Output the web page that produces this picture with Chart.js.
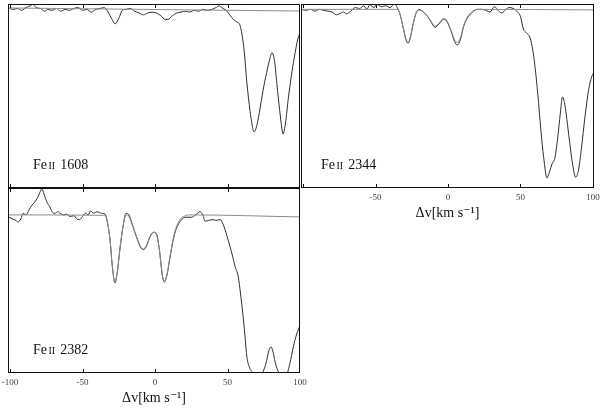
<!DOCTYPE html>
<html>
<head>
<meta charset="utf-8">
<title>Fe II velocity profiles</title>
<script src="https://cdn.jsdelivr.net/npm/chart.js@4.4.0/dist/chart.umd.min.js"></script>
<style>
  html, body { margin: 0; padding: 0; background: #fff; }
  #wrap { position: relative; width: 600px; height: 408px; overflow: hidden; }
  canvas { position: absolute; }
  #c1608 { left: 0; top: 0; }
  #c2344 { left: 295px; top: 0; }
  #c2382 { left: 0; top: 184px; }
</style>
</head>
<body>
<div id="wrap">
  <canvas id="c1608" width="302" height="190"></canvas>
  <canvas id="c2344" width="305" height="223"></canvas>
  <canvas id="c2382" width="310" height="224"></canvas>
</div>
<script>
(function () {

    'use strict';

    // Fe II 1608 : observed spectrum and continuum
    const vel1608 = [-101.4, -98, -95, -92, -89, -86, -84, -82, -79, -76, -74, -71, -68, -65, -62, -59, -56, -53, -50, -47,
        -44, -41, -38, -35, -32, -30, -27.5, -25, -22.5, -20, -17, -14, -11, -8, -5, -2, 1, 4, 7, 9, 12, 15, 18, 21, 24, 27,
        30, 33, 36, 39, 42, 44, 46, 49, 52, 54, 56.5, 58.5, 60, 61.5, 63.4, 65.5, 67, 68.3, 70, 72, 74.5, 77, 79, 80.7,
        82.5, 84, 86, 87.5, 88.3, 90, 92, 94, 96, 98.6, 100];
    const flux1608 = [1.0, 0.99, 0.995, 0.985, 1.0, 1.01, 1.02, 1.0, 0.995, 0.98, 0.99, 0.985, 0.995, 0.98, 0.99, 0.985, 0.995, 1.0, 0.985, 0.99,
        0.975, 0.99, 0.995, 1.0, 0.97, 0.94, 0.91, 0.94, 0.985, 0.99, 0.995, 0.98, 0.97, 0.96, 0.97, 0.975, 0.97, 0.955, 0.935, 0.935, 0.955, 0.97, 0.975, 0.98, 0.975, 0.985,
        0.98, 0.99, 0.985, 0.99, 1.0, 1.01, 1.0, 0.985, 0.955, 0.935, 0.92, 0.905, 0.85, 0.76, 0.58, 0.43, 0.35, 0.31, 0.34, 0.42, 0.54, 0.64, 0.71, 0.75,
        0.70, 0.58, 0.43, 0.33, 0.30, 0.36, 0.50, 0.62, 0.72, 0.83, 0.86];
    const modelVel1608 = [-101.4, 100];
    const model1608 = [0.998, 0.981];

    // Fe II 2344
    const vel2344 = [-101.4, -98, -95, -92, -89, -86, -83, -80, -77, -75, -72, -70, -67, -64, -61, -58, -56, -54, -51, -49,
        -46, -43, -40, -37, -35, -33, -31, -29, -27.6, -26, -24, -22, -20, -17, -14, -11, -9, -6, -3, -1, 2, 4.5, 6.4, 8.5,
        11, 14, 17, 20, 23, 26, 29, 32, 35, 37, 40, 42, 45, 48, 50, 52, 54, 56.6, 58.5, 60, 62, 64, 66, 68.3, 70, 72,
        73.5, 75.5, 77.5, 79, 80.5, 82.5, 84, 86, 88, 90, 92, 94.5, 97, 99, 100.7];
    const flux2344 = [1.0, 0.995, 1.0, 0.99, 1.0, 0.995, 0.99, 0.985, 0.97, 0.975, 0.985, 0.975, 0.99, 1.01, 1.005, 1.02, 1.0, 1.025, 1.01, 1.03,
        1.015, 1.02, 1.01, 1.03, 1.01, 0.97, 0.90, 0.83, 0.81, 0.84, 0.92, 0.98, 1.0, 0.985, 0.96, 0.92, 0.90, 0.92, 0.945, 0.935, 0.88, 0.82, 0.80, 0.83,
        0.91, 0.96, 0.985, 1.0, 1.0, 0.995, 0.985, 1.015, 0.99, 0.98, 1.0, 1.01, 1.005, 0.985, 0.96, 0.89, 0.87, 0.84, 0.77, 0.68, 0.52, 0.33, 0.17, 0.056, 0.09, 0.14,
        0.16, 0.27, 0.42, 0.51, 0.47, 0.35, 0.25, 0.13, 0.06, 0.10, 0.22, 0.40, 0.55, 0.62, 0.65];
    const modelVel2344 = [-101.4, -35, -33, -31, -29, -27.6, -26, -24, -22, -20, -17, -14, -11, -9, -6, -3, -1, 2, 4.5, 6.4,
        8.5, 11, 14, 17, 20, 100.7];
    const model2344 = [1.0, 1.0, 0.97, 0.90, 0.835, 0.815, 0.845, 0.92, 0.98, 0.995, 0.985, 0.96, 0.925, 0.905, 0.925, 0.95, 0.94, 0.885, 0.83, 0.815,
        0.84, 0.915, 0.965, 0.99, 1.0, 0.997];

    // Fe II 2382
    const vel2382 = [-101.4, -98.5, -96, -94.5, -92.5, -91, -89, -87, -85, -83, -81, -79.5, -78, -76.5, -74.5, -72.5, -71, -69, -67, -65.5,
        -63, -61, -58.6, -56, -54, -52, -50, -48, -46, -44.5, -42.5, -40, -37, -34.5, -33, -31, -29.5, -27.6, -26, -24,
        -22, -20, -18, -15, -12, -10, -8, -6, -3.5, -1, 1, 3, 5, 6.4, 8.5, 10.3, 13, 15, 17.5, 19.5,
        22, 25, 28, 31, 33, 34.5, 37, 40, 42, 45, 47, 49.5, 51.7, 53.5, 55, 57.4, 59, 60.5, 62, 63.4,
        65, 66.7, 69, 73.6, 75.5, 77, 78.5, 80, 81.5, 82.8, 84.5, 86, 91, 93, 95.4, 97.5, 100];
    const flux2382 = [0.99, 0.975, 0.965, 0.955, 0.975, 1.01, 1.0, 1.03, 1.06, 1.08, 1.11, 1.14, 1.165, 1.13, 1.08, 1.05, 1.02, 1.01, 1.02, 1.01,
        1.0, 1.005, 0.99, 0.995, 0.975, 0.97, 0.99, 1.01, 1.0, 1.025, 1.01, 1.02, 1.01, 1.005, 0.96, 0.84, 0.68, 0.57, 0.64, 0.80,
        0.93, 1.01, 1.0, 0.92, 0.84, 0.795, 0.78, 0.80, 0.86, 0.89, 0.88, 0.78, 0.62, 0.575, 0.63, 0.73, 0.86, 0.92, 0.96, 0.98,
        0.985, 0.985, 1.0, 1.02, 1.0, 0.96, 0.965, 0.97, 0.965, 0.97, 0.94, 0.87, 0.80, 0.74, 0.68, 0.61, 0.50, 0.38, 0.24, 0.10,
        0.04, 0.01, 0.0, 0.0, 0.03, 0.08, 0.14, 0.165, 0.13, 0.07, 0.02, 0.0, 0.0, 0.06, 0.165, 0.24, 0.30];
    const modelVel2382 = [-101.4, -35, -33, -31, -29.5, -27.6, -26, -24, -22, -20, -18, -15, -12, -10, -8, -6, -3.5, -1, 1, 3,
        5, 6.4, 8.5, 10.3, 13, 15, 17.5, 20, 23, 100];
    const model2382 = [1.0, 0.997, 0.96, 0.84, 0.68, 0.575, 0.64, 0.80, 0.93, 1.0, 0.99, 0.92, 0.845, 0.80, 0.785, 0.805, 0.865, 0.89, 0.875, 0.78,
        0.625, 0.58, 0.635, 0.735, 0.87, 0.93, 0.975, 0.99, 1.0, 0.987];

    // axis ticks
    const tickMarks = [-100, -50, 0, 50, 100];
    const labelsBottom = [-100, -50, 0, 50, 100];
    const labelsRight = [-50, 0, 50, 100];
    const axisTitle = 'Δv[km s⁻¹]';

    const serif = '"Liberation Serif", "DejaVu Serif", serif';

    // frame, inward tick marks and the ion label
    const framePlugin = {
        id: 'frame',
        afterDatasetsDraw(chart, args, opts) {
            let a = chart.chartArea;
            let ctx = chart.ctx;
            let xs = chart.scales.x;
            let l = Math.round(a.left), r = Math.round(a.right);
            let t = Math.round(a.top), b = Math.round(a.bottom);
            ctx.save();
            ctx.strokeStyle = '#111';
            ctx.lineWidth = 1;
            ctx.strokeRect(l + 0.5, t + 0.5, r - l - 1, b - t - 1);
            ctx.beginPath();
            tickMarks.forEach((v) => {
                let px = Math.round(xs.getPixelForValue(v)) + 0.5;
                if (px < l + 2 || px > r - 2) {
                    return;
                }
                ctx.moveTo(px, t);
                ctx.lineTo(px, t + 4);
                ctx.moveTo(px, b);
                ctx.lineTo(px, b - 4);
            });
            ctx.stroke();

            // Fe II label, with the ion stage in small capitals
            let x = a.left + opts.dx;
            let y = a.bottom - 19;
            ctx.fillStyle = '#111';
            ctx.textBaseline = 'alphabetic';
            ctx.font = '14px ' + serif;
            ctx.fillText('Fe', x, y);
            x += ctx.measureText('Fe').width + 1.5;
            ctx.font = '10px ' + serif;
            ctx.fillText('II', x, y);
            x += ctx.measureText('II').width + 5;
            ctx.font = '14px ' + serif;
            ctx.fillText(opts.line, x, y);
            ctx.restore();
        }
    };

    window.addEventListener('load', init);

    function init() {
        makePanel('c1608', {
            vel: vel1608, flux: flux1608, modelVel: modelVel1608, model: model1608,
            yMax: 1.02, line: '1608', dx: 25,
            padding: { left: 8, top: 4, right: 2, bottom: 2 },
            labels: null
        });
        makePanel('c2344', {
            vel: vel2344, flux: flux2344, modelVel: modelVel2344, model: model2344,
            yMax: 1.03, line: '2344', dx: 20,
            padding: { left: 6, top: 4, right: 6, bottom: 0 },
            labels: labelsRight
        });
        makePanel('c2382', {
            vel: vel2382, flux: flux2382, modelVel: modelVel2382, model: model2382,
            yMax: 1.17, line: '2382', dx: 25,
            padding: { left: 8, top: 4, right: 10, bottom: 0 },
            labels: labelsBottom
        });
    }

    function makePanel(canvasId, spec) {
        let canvas = id(canvasId);
        let showAxis = spec.labels !== null;
        let xMin = -101.4;
        let xMax = canvasId === 'c2344' ? 100.7 : 100;

        new Chart(canvas, {
            type: 'line',
            data: {
                datasets: [{
                    data: pairs(spec.modelVel, spec.model),
                    borderColor: '#8c8c8c',
                    borderWidth: 1,
                    pointRadius: 0,
                    cubicInterpolationMode: 'monotone'
                }, {
                    data: pairs(spec.vel, spec.flux),
                    borderColor: '#2e2e2e',
                    borderWidth: 1,
                    pointRadius: 0,
                    cubicInterpolationMode: 'monotone'
                }]
            },
            options: {
                responsive: false,
                animation: false,
                devicePixelRatio: 1,
                layout: { padding: spec.padding },
                plugins: {
                    legend: { display: false },
                    tooltip: { enabled: false },
                    frame: { line: spec.line, dx: spec.dx }
                },
                scales: {
                    x: {
                        type: 'linear',
                        min: xMin,
                        max: xMax,
                        display: showAxis,
                        grid: { display: false, drawTicks: false },
                        border: { display: false },
                        ticks: {
                            color: '#444',
                            padding: 4,
                            maxRotation: 0,
                            font: { family: serif, size: 9 }
                        },
                        title: {
                            display: showAxis,
                            text: axisTitle,
                            color: '#111',
                            padding: { top: 0, bottom: 1 },
                            font: { family: serif, size: 14 }
                        },
                        afterBuildTicks: (scale) => {
                            scale.ticks = (spec.labels || tickMarks).map((v) => ({ value: v }));
                        },
                        afterFit: (scale) => {
                            // hidden axis takes no room
                            scale.height = showAxis ? 35 : 0;
                            scale.paddingLeft = 0;
                            scale.paddingRight = 0;
                        }
                    },
                    y: { min: 0, max: spec.yMax, display: false }
                }
            },
            plugins: [framePlugin]
        });
    }

    /* ------------------------------ Helper Functions  ------------------------------ */

    function pairs(xs, ys) {
        return xs.map((x, i) => ({ x: x, y: ys[i] }));
    }

    function id(idName) {
        return document.getElementById(idName);
    }

})();
</script>
</body>
</html>
